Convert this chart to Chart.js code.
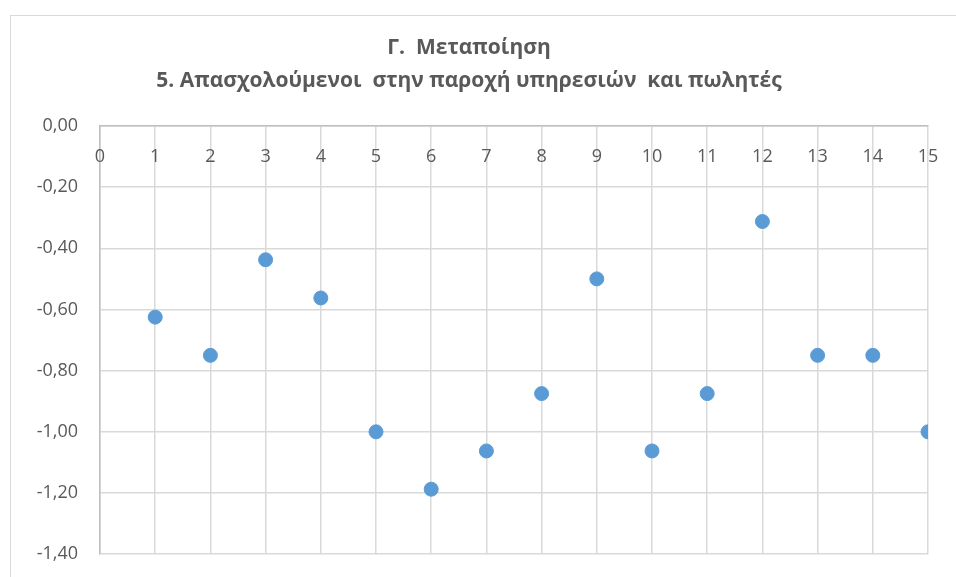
<html>
<head>
    <meta charset="utf-8">
    <title>Μεταποίηση - Απασχολούμενοι</title>
    <script src="https://cdn.jsdelivr.net/npm/chart.js"></script>
    <style>
        body { margin: 0; width: 956px; height: 577px; overflow: hidden; background: #fff; position: relative; }
        #frame { position: absolute; left: 10px; top: 15px; width: 960px; height: 580px; border: 1px solid #d9d9d9; }
        #scatterChart { position: absolute; left: 0; top: 0; }
    </style>
</head>
<body>
    <div id="frame"></div>
    <!-- y tick padding also pads the bottom of the plot, so the canvas runs a little past the page edge -->
    <canvas id="scatterChart" width="956" height="587"></canvas>
    <script>
        const titleLines = ['Γ.  Μεταποίηση', '5. Απασχολούμενοι  στην παροχή υπηρεσιών  και πωλητές'];
        const xValues = [1, 2, 3, 4, 5, 6, 7, 8, 9, 10, 11, 12, 13, 14, 15];
        const yValues = [-0.625, -0.75, -0.4375, -0.5625, -1.0, -1.1875, -1.0625, -0.875, -0.5, -1.0625, -0.875, -0.3125, -0.75, -0.75, -1.0];
        const xRange = [0, 15];
        const yRange = [-1.4, 0];

        const fontFamily = "'Open Sans', sans-serif";
        const textColor = '#595959';

        // x labels sit just under the top axis line, inside the plot
        const innerXLabels = {
            id: 'innerXLabels',
            afterDraw(chart) {
                const ctx = chart.ctx;
                const xScale = chart.scales.x;
                ctx.save();
                ctx.font = '18px ' + fontFamily;
                ctx.fillStyle = textColor;
                ctx.textAlign = 'center';
                ctx.textBaseline = 'middle';
                xScale.ticks.forEach(tick => {
                    ctx.fillText(String(tick.value), xScale.getPixelForValue(tick.value), chart.chartArea.top + 31);
                });
                ctx.restore();
            }
        };

        const ctx = document.getElementById('scatterChart').getContext('2d');
        new Chart(ctx, {
            type: 'scatter',
            data: {
                datasets: [{
                    data: xValues.map((x, i) => ({ x: x, y: yValues[i] })),
                    backgroundColor: '#5b9bd5',
                    borderColor: '#5b9bd5',
                    pointRadius: 7,
                    pointHoverRadius: 7
                }]
            },
            options: {
                responsive: false,
                animation: false,
                layout: { padding: { left: 10, right: 28, top: 0, bottom: 0 } },
                plugins: {
                    legend: { display: false },
                    tooltip: { enabled: false },
                    title: {
                        display: true,
                        text: titleLines,
                        color: textColor,
                        font: { family: fontFamily, size: 21, weight: 'bold', lineHeight: 1.57 },
                        padding: { top: 32, bottom: 28 }
                    }
                },
                scales: {
                    x: {
                        type: 'linear',
                        position: 'top',
                        min: xRange[0],
                        max: xRange[1],
                        ticks: { display: false, stepSize: 1 },
                        grid: { color: '#d9d9d9', lineWidth: 1.5, drawTicks: false },
                        border: { color: '#bfbfbf', width: 1.5 }
                    },
                    y: {
                        min: yRange[0],
                        max: yRange[1],
                        ticks: {
                            stepSize: 0.2,
                            padding: 22,
                            color: textColor,
                            font: { family: fontFamily, size: 18 },
                            callback: v => v.toFixed(2).replace('.', ',')
                        },
                        grid: { color: '#d9d9d9', lineWidth: 1.5, drawTicks: false },
                        border: { color: '#bfbfbf', width: 1.5 },
                        afterFit: scale => { scale.width = 90; }
                    }
                }
            },
            plugins: [innerXLabels]
        });
    </script>
</body>
</html>
